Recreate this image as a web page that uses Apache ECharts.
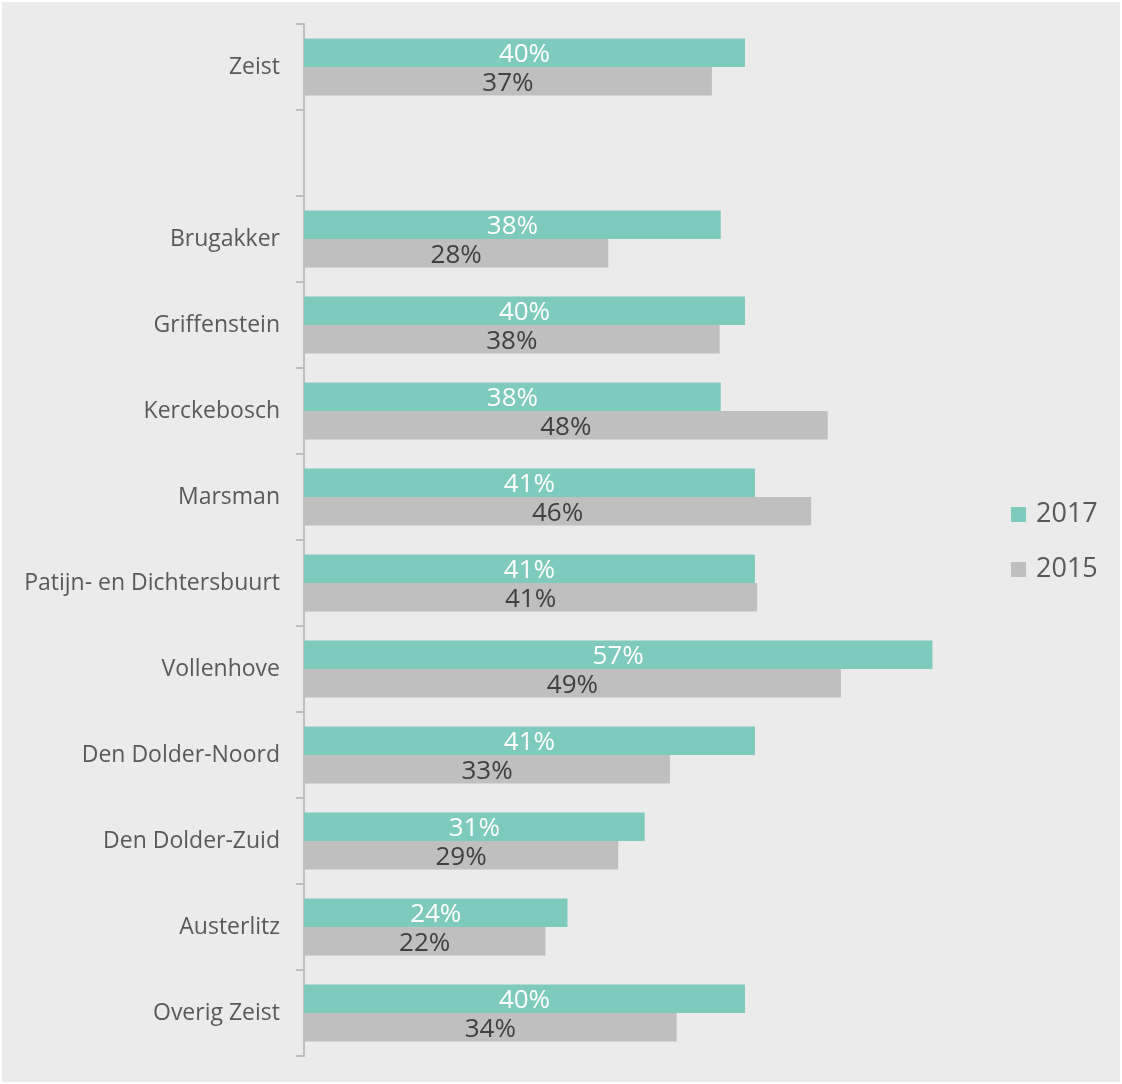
<!DOCTYPE html>
<html>
<head>
<meta charset="utf-8">
<script src="https://cdn.jsdelivr.net/npm/echarts@6/dist/echarts.min.js"></script>
<style>
  html, body { margin: 0; padding: 0; background: #fff; }
  #chart { width: 1118px; height: 1080px; margin: 2px; background: #ebebeb; }
</style>
</head>
<body>
<div id="chart"></div>
<script>
// wijken, van boven naar beneden (lege regel na Zeist)
var categories = ["Zeist", "", "Brugakker", "Griffenstein", "Kerckebosch", "Marsman",
  "Patijn- en Dichtersbuurt", "Vollenhove", "Den Dolder-Noord", "Den Dolder-Zuid",
  "Austerlitz", "Overig Zeist"];
var legendNames = ["2017", "2015"];
// waarden in %, geschat uit de balklengtes
var values2017 = [40, null, 37.8, 40, 37.8, 40.9, 40.9, 57, 40.9, 30.9, 23.9, 40];
var values2015 = [37, null, 27.6, 37.7, 47.5, 46, 41.1, 48.7, 33.2, 28.5, 21.9, 33.8];

var chart = echarts.init(document.getElementById("chart"));

function pct(p) {
  return p.value == null ? "" : Math.round(p.value) + "%";
}

chart.setOption({
  backgroundColor: "#ebebeb",
  animation: false,
  textStyle: { fontFamily: "Open Sans" },
  legend: {
    orient: "vertical",
    left: 1004,
    top: 494,
    itemWidth: 15,
    itemHeight: 15,
    itemGap: 28,
    icon: "rect",
    data: legendNames,
    textStyle: { fontSize: 27, color: "#595959", fontFamily: "Open Sans", padding: [0, 0, 0, 5] }
  },
  grid: {
    left: 302,
    top: 22,
    bottom: 26,
    width: 661.5
  },
  xAxis: {
    type: "value",
    min: 0,
    max: 60,
    show: false
  },
  yAxis: {
    type: "category",
    inverse: true,
    data: categories,
    axisLine: { lineStyle: { color: "#bfbfbf", width: 2 } },
    axisTick: { show: true, length: 8, lineStyle: { color: "#bfbfbf", width: 2 } },
    axisLabel: { fontSize: 23, color: "#595959", margin: 24, fontFamily: "Open Sans" }
  },
  series: [
    {
      name: "2017",
      type: "bar",
      data: values2017,
      barGap: "0%",
      barCategoryGap: "34%",
      itemStyle: { color: "#7ecbbd" },
      label: {
        show: true,
        position: "inside",
        offset: [0, 2],
        formatter: pct,
        color: "#ffffff",
        fontSize: 26,
        fontFamily: "Open Sans"
      }
    },
    {
      name: "2015",
      type: "bar",
      data: values2015,
      itemStyle: { color: "#bfbfbf" },
      label: {
        show: true,
        position: "inside",
        offset: [0, 2],
        formatter: pct,
        color: "#404040",
        fontSize: 26,
        fontFamily: "Open Sans"
      }
    }
  ]
});
</script>
</body>
</html>
